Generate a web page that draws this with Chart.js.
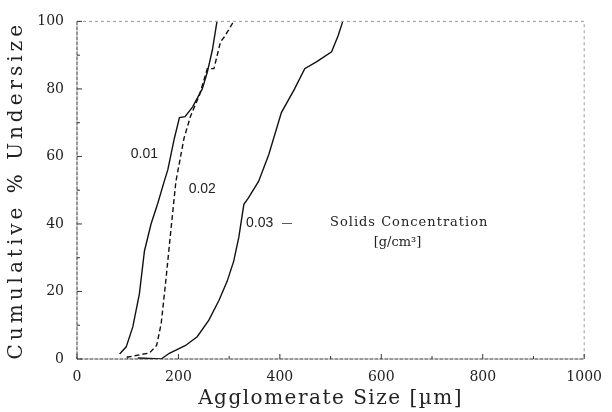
<!DOCTYPE html>
<html>
<head>
<meta charset="utf-8">
<script src="https://cdn.jsdelivr.net/npm/chart.js@4/dist/chart.umd.min.js"></script>
<style>
  html, body { margin: 0; padding: 0; background: #fff; }
  #wrap { width: 612px; height: 412px; }
</style>
</head>
<body>
<div id="wrap"><canvas id="sizeChart"></canvas></div>
<script>
// Agglomerate size distributions for three solids concentrations
const conc1X = [84, 97, 110, 123, 133, 146, 159, 172, 179, 192, 202, 213, 228, 247, 257, 267, 276];
const conc1Y = [1.5, 3.6, 9.5, 19.3, 32, 40, 46, 52.6, 56, 65.4, 71.5, 71.8, 74.7, 80, 85, 91.6, 100];

const conc2X = [98, 143, 157, 166, 175, 185, 195, 211, 224, 241, 257, 270, 283, 290, 309];
const conc2Y = [0.5, 1.8, 4, 10.5, 23, 38, 52.6, 65.4, 72, 78, 86, 86, 94, 95.3, 100];

const conc3X = [120, 166, 182, 195, 214, 237, 260, 280, 296, 309, 319, 329, 338, 358, 378, 403, 429, 449, 472, 502, 515, 524];
const conc3Y = [0.3, 0, 1.7, 2.6, 4, 6.6, 11.5, 17.4, 23, 29, 36, 45.8, 47.7, 52.6, 60.5, 73, 80, 86, 88, 91, 95.8, 100];

const xTicks = [0, 200, 400, 600, 800, 1000];
const yTicks = [0, 20, 40, 60, 80, 100];

const xTitle = 'Agglomerate Size [\u00B5m]';
const yTitle = 'Cumulative % Undersize';

function toPoints(xs, ys) {
    return xs.map((x, i) => ({ x: x, y: ys[i] }));
}

// frame with inward ticks, drawn from the scales
const framePlugin = {
    id: 'frame',
    afterDraw(chart) {
        const ctx = chart.ctx;
        const a = chart.chartArea;
        const xs = chart.scales.x;
        const ys = chart.scales.y;
        ctx.save();
        ctx.strokeStyle = '#333';
        ctx.lineWidth = 1;
        ctx.setLineDash([4, 1]);
        ctx.beginPath();
        ctx.moveTo(a.left, a.top);
        ctx.lineTo(a.left, a.bottom);
        ctx.lineTo(a.right, a.bottom);
        ctx.stroke();
        ctx.strokeStyle = '#999';
        ctx.setLineDash([3, 3]);
        ctx.beginPath();
        ctx.moveTo(a.left, a.top);
        ctx.lineTo(a.right, a.top);
        ctx.lineTo(a.right, a.bottom);
        ctx.stroke();
        ctx.setLineDash([]);
        ctx.strokeStyle = '#333';
        ctx.beginPath();
        for (let v = 0; v <= 1000; v += 100) {
            const px = xs.getPixelForValue(v);
            const len = v % 200 === 0 ? 5 : 3;
            ctx.moveTo(px, a.bottom);
            ctx.lineTo(px, a.bottom - len);
        }
        for (let v = 0; v <= 100; v += 10) {
            const py = ys.getPixelForValue(v);
            const len = v % 20 === 0 ? 5 : 3;
            ctx.moveTo(a.left, py);
            ctx.lineTo(a.left + len, py);
        }
        ctx.stroke();

        // axis titles, spaced out like the typewriter lettering
        ctx.fillStyle = '#222';
        ctx.textAlign = 'center';
        ctx.textBaseline = 'middle';
        ctx.font = '20px "DejaVu Serif"';
        ctx.letterSpacing = '1.5px';
        ctx.fillText(xTitle, (a.left + a.right) / 2, 399);
        ctx.save();
        ctx.translate(17, (a.top + a.bottom) / 2);
        ctx.rotate(-Math.PI / 2);
        ctx.letterSpacing = '4px';
        ctx.fillText(yTitle, 0, 0);
        ctx.restore();
        ctx.restore();
    }
};

// curve labels placed in data coordinates
const labelPlugin = {
    id: 'curveLabels',
    afterDatasetsDraw(chart) {
        const ctx = chart.ctx;
        const xs = chart.scales.x;
        const ys = chart.scales.y;
        const put = (text, x, y, font, spacing) => {
            ctx.font = font;
            ctx.letterSpacing = spacing || '0px';
            ctx.fillText(text, xs.getPixelForValue(x), ys.getPixelForValue(y));
        };
        ctx.save();
        ctx.fillStyle = '#222';
        ctx.textAlign = 'center';
        ctx.textBaseline = 'middle';
        put('0.01', 133, 60.6, '14px "Liberation Sans"');
        put('0.02', 247, 50.3, '14px "Liberation Sans"');
        put('0.03', 360, 40.3, '14px "Liberation Sans"');
        put('\u2014', 414, 40.3, '10px "Liberation Sans"');
        put('Solids Concentration', 655, 40.3, '13px "DejaVu Serif"', '1px');
        put('[g/cm\u00B3]', 632, 34.4, '13px "DejaVu Serif"');
        ctx.restore();
    }
};

const lineStyle = {
    showLine: true,
    borderColor: '#111',
    borderWidth: 1.4,
    pointRadius: 0,
    fill: false,
    tension: 0
};

new Chart(document.getElementById('sizeChart'), {
    type: 'scatter',
    data: {
        datasets: [
            Object.assign({ label: '0.01', data: toPoints(conc1X, conc1Y) }, lineStyle),
            Object.assign({ label: '0.02', data: toPoints(conc2X, conc2Y), borderDash: [5, 3] }, lineStyle),
            Object.assign({ label: '0.03', data: toPoints(conc3X, conc3Y) }, lineStyle)
        ]
    },
    options: {
        responsive: true,
        maintainAspectRatio: false,
        animation: false,
        layout: { padding: { top: 19, right: 24, left: 0, bottom: 0 } },
        scales: {
            x: {
                type: 'linear',
                min: 0,
                max: 1000,
                afterFit: (scale) => { scale.height = 53; },
                afterBuildTicks: (scale) => { scale.ticks = xTicks.map(v => ({ value: v })); },
                grid: { display: false, drawTicks: false },
                border: { display: false },
                ticks: { color: '#222', padding: 10, maxRotation: 0, callback: (v) => String(v), font: { family: 'DejaVu Serif', size: 14 } },
                title: { display: false }
            },
            y: {
                type: 'linear',
                min: 0,
                max: 100,
                afterFit: (scale) => { scale.width = 77; },
                afterBuildTicks: (scale) => { scale.ticks = yTicks.map(v => ({ value: v })); },
                grid: { display: false, drawTicks: false },
                border: { display: false },
                ticks: { color: '#222', padding: 13, callback: (v) => String(v), font: { family: 'DejaVu Serif', size: 14 } },
                title: { display: false }
            }
        },
        plugins: {
            legend: { display: false },
            tooltip: { enabled: false }
        }
    },
    plugins: [framePlugin, labelPlugin]
});
</script>
</body>
</html>
